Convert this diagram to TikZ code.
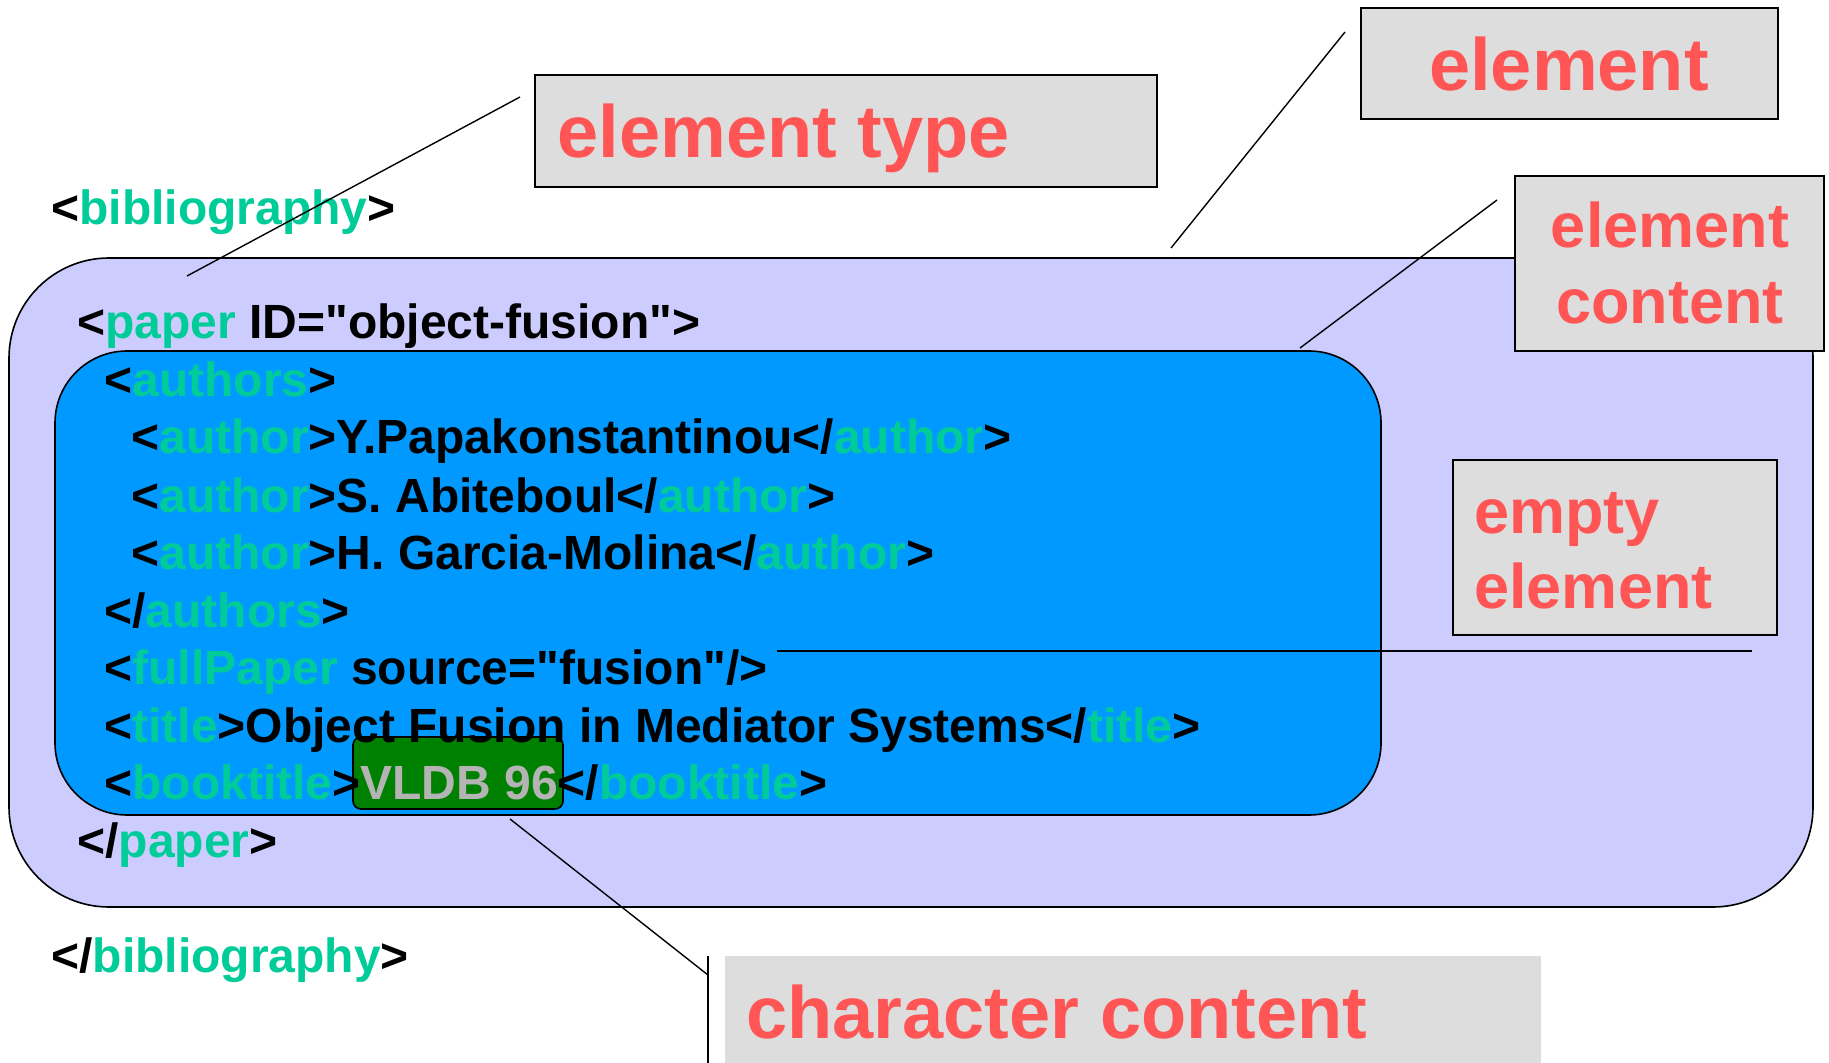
\documentclass[tikz,border=0pt]{standalone}
\usepackage{fontspec}
\newfontfamily\arial{Liberation Sans}
\definecolor{tagc}{RGB}{0,204,153}
\definecolor{lav}{RGB}{204,204,255}
\definecolor{bluebox}{RGB}{0,153,255}
\definecolor{greenbox}{RGB}{0,128,0}
\definecolor{vldb}{RGB}{180,180,180}
\definecolor{lblfill}{RGB}{221,221,221}
\definecolor{lblred}{RGB}{255,85,85}
\newcommand{\tg}[1]{\textcolor{tagc}{#1}}
\tikzset{
 codetext/.style={anchor=base west, inner sep=0pt, font=\arial\bfseries\fontsize{24}{28}\selectfont, text=black},
 bigred/.style={inner sep=0pt, font=\arial\bfseries\fontsize{37}{44}\selectfont, text=lblred},
 midred/.style={inner sep=0pt, font=\arial\bfseries\fontsize{31.5}{38}\selectfont, text=lblred},
 lblbox/.style={draw=black, line width=1pt, fill=lblfill, inner sep=0pt},
 container/.style={draw=black, line width=0.8pt, inner sep=0pt},
 connector/.style={draw=black, line width=0.7pt},
}
\begin{document}
\begin{tikzpicture}[x=0.5pt,y=-0.5pt]
\useasboundingbox (0,0) rectangle (1829,1063);
\fill[white] (0,0) rectangle (1829,1063);
% containers
\node[container, fill=lav, rounded corners=50pt, minimum width=902pt, minimum height=324.5pt] (paperbox) at (911,582.5) {};
\node[container, fill=bluebox, rounded corners=36pt, minimum width=663pt, minimum height=232pt] (authbox) at (718,583) {};
\node[container, fill=greenbox, rounded corners=4pt, minimum width=105pt, minimum height=36pt] (vldbbox) at (458,773) {};
% code text
\node[codetext] (l1) at (51,225) {<\tg{bibliography}>};
\node[codetext] (l2) at (77,339) {<\tg{paper} ID="object-fusion">};
\node[codetext] (l3) at (104,397) {<\tg{authors}>};
\node[codetext] (l4) at (131,454) {<\tg{author}>Y.Papakonstantinou</\tg{author}>};
\node[codetext] (l5) at (131,512) {<\tg{author}>S. Abiteboul</\tg{author}>};
\node[codetext] (l6) at (131,569) {<\tg{author}>H. Garcia-Molina</\tg{author}>};
\node[codetext] (l7) at (104,627) {</\tg{authors}>};
\node[codetext] (l8) at (104,684) {<\tg{fullPaper} source="fusion"/>};
\node[codetext] (l9) at (104,742) {<\tg{title}>Object Fusion in Mediator Systems</\tg{title}>};
\node[codetext] (l10) at (104,799) {<\tg{booktitle}>\textcolor{vldb}{VLDB 96}</\tg{booktitle}>};
\node[codetext] (l11) at (77,857) {</\tg{paper}>};
\node[codetext] (l12) at (51,972) {</\tg{bibliography}>};
% label boxes
\node[lblbox, minimum width=311pt, minimum height=56pt] (etbox) at (846,131) {};
\node[bigred, anchor=base west] (ettext) at (557,158) {element type};
\node[lblbox, minimum width=208.5pt, minimum height=55.5pt] (elbox) at (1569.5,63.5) {};
\node[bigred, anchor=base] (eltext) at (1569,91) {element};
\node[lblbox, minimum width=154.5pt, minimum height=87.5pt] (ecbox) at (1669.5,263.5) {};
\node[midred, anchor=base] (ectext1) at (1670,248) {element};
\node[midred, anchor=base] (ectext2) at (1670,324) {content};
\node[lblbox, minimum width=162pt, minimum height=87.5pt] (eebox) at (1615,547.5) {};
\node[midred, anchor=base west] (eetext1) at (1474,533) {empty};
\node[midred, anchor=base west] (eetext2) at (1474,608) {element};
\fill[lblfill] (725,956) rectangle (1541,1063);
\node[bigred, anchor=base west] (cctext) at (746,1038) {character content};
% connectors
\coordinate (eta) at (520,97);
\coordinate (etb) at (187,276);
\draw[connector] (eta) -- (etb);
\coordinate (ela) at (1345,32);
\coordinate (elb) at (1171,248);
\draw[connector] (ela) -- (elb);
\coordinate (eca) at (1497,200);
\coordinate (ecb) at (1300,348);
\draw[connector] (eca) -- (ecb);
\coordinate (eea) at (1752,651);
\coordinate (eeb) at (777,651);
\draw[connector, line width=1pt] (eea) -- (eeb);
\coordinate (cctop) at (708,956);
\coordinate (ccbot) at (708,1063);
\coordinate (ccmid) at (708,975);
\coordinate (ccend) at (510,819);
\draw[connector, line width=0.8pt] (cctop) -- (ccbot);
\draw[connector] (ccmid) -- (ccend);
\end{tikzpicture}
\end{document}
